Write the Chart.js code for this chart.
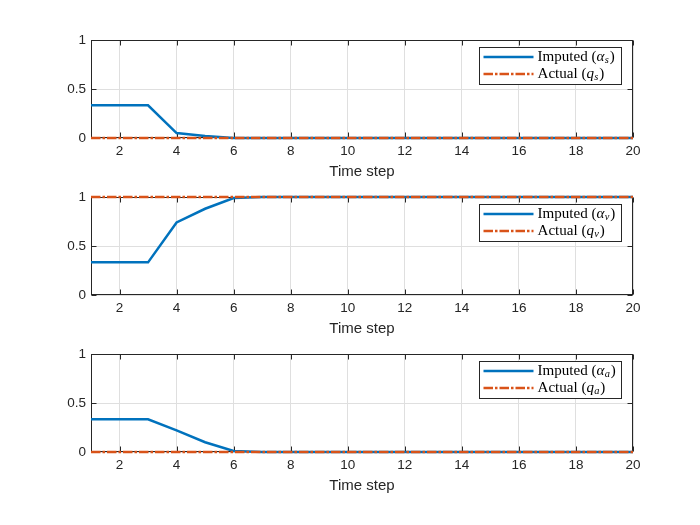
<!DOCTYPE html>
<html><head><meta charset="utf-8">
<script src="https://cdn.jsdelivr.net/npm/chart.js@4"></script>
<style>
html,body{margin:0;padding:0;background:#fff;width:700px;height:525px;overflow:hidden}
.pane{position:absolute;left:0;width:700px;height:185px}
</style></head><body>
<div class="pane" style="top:0px"><canvas id="c0" width="700" height="185"></canvas></div>
<div class="pane" style="top:157px"><canvas id="c1" width="700" height="185"></canvas></div>
<div class="pane" style="top:314px"><canvas id="c2" width="700" height="185"></canvas></div>
<script>
const STEPS = [1,2,3,4,5,6,7,8,9,10,11,12,13,14,15,16,17,18,19,20];
const X_TICKS = [2,4,6,8,10,12,14,16,18,20];
const Y_TICKS = [0,0.5,1];
const Y_TICK_LABELS = ['0','0.5','1'];
const X_TITLE = 'Time step';
const SUBSCRIPTS = ['s','v','a'];

const IMPUTED_S = [0.333,0.333,0.333,0.05,0.02,0,0,0,0,0,0,0,0,0,0,0,0,0,0,0];
const ACTUAL_S  = [0,0,0,0,0,0,0,0,0,0,0,0,0,0,0,0,0,0,0,0];
const IMPUTED_V = [0.333,0.333,0.333,0.74,0.88,0.99,1,1,1,1,1,1,1,1,1,1,1,1,1,1];
const ACTUAL_V  = [1,1,1,1,1,1,1,1,1,1,1,1,1,1,1,1,1,1,1,1];
const IMPUTED_A = [0.333,0.333,0.333,0.22,0.10,0.01,0,0,0,0,0,0,0,0,0,0,0,0,0,0];
const ACTUAL_A  = [0,0,0,0,0,0,0,0,0,0,0,0,0,0,0,0,0,0,0,0];

const SERIES = [[IMPUTED_S, ACTUAL_S],[IMPUTED_V, ACTUAL_V],[IMPUTED_A, ACTUAL_A]];

const BLUE = '#0072BD', ORANGE = '#D95319', AXIS = '#262626';
const DASHDOT = [9.5,2,2.5,2];
const LW = 2.5;

const boxPlugin = {
  id: 'mbox',
  beforeDatasetsDraw(chart) {
    const {ctx, chartArea: a, scales: {x, y}} = chart;
    ctx.save();
    ctx.strokeStyle = AXIS; ctx.lineWidth = 1;
    const L = Math.round(a.left)+0.5, R = Math.round(a.right)-0.5, T = Math.round(a.top)+0.5, B = Math.round(a.bottom)-0.5;
    ctx.strokeRect(L, T, R-L, B-T);
    const tl = 5;
    ctx.beginPath();
    X_TICKS.forEach(v => {
      const px = Math.round(x.getPixelForValue(v))+0.5;
      ctx.moveTo(px, B); ctx.lineTo(px, B-tl);
      ctx.moveTo(px, T); ctx.lineTo(px, T+tl);
    });
    Y_TICKS.forEach(v => {
      const py = Math.round(y.getPixelForValue(v))+0.5;
      ctx.moveTo(L, py); ctx.lineTo(L+tl, py);
      ctx.moveTo(R, py); ctx.lineTo(R-tl, py);
    });
    ctx.stroke();
    ctx.restore();
  }
};

function drawMathLabel(ctx, label, x, y) {
  const m = label.match(/^(.*\()(.)_(.)\)$/);
  const SX = 1.04;
  ctx.save();
  ctx.translate(x, y);
  ctx.scale(SX, 1);
  ctx.fillStyle = '#000';
  ctx.textBaseline = 'middle';
  ctx.textAlign = 'left';
  let cx = 0;
  ctx.font = '14.5px "Liberation Serif", serif';
  ctx.fillText(m[1], cx, 0); cx += ctx.measureText(m[1]).width;
  ctx.font = 'italic 14.5px "Liberation Serif", serif';
  ctx.fillText(m[2], cx, 0); cx += ctx.measureText(m[2]).width + 0.3;
  ctx.font = 'italic 10px "Liberation Serif", serif';
  ctx.fillText(m[3], cx, 3.5); cx += ctx.measureText(m[3]).width + 0.8;
  ctx.font = '14.5px "Liberation Serif", serif';
  ctx.fillText(')', cx, 0);
  ctx.restore();
}

const legendPlugin = {
  id: 'mlegend',
  afterDraw(chart) {
    const {ctx, chartArea: a} = chart;
    const w = 142, h = 37;
    const left = Math.round(a.right - 12 - w) + 0.5;
    const top = Math.round(a.top + 7) + 0.5;
    ctx.save();
    ctx.fillStyle = '#fff';
    ctx.fillRect(left, top, w, h);
    ctx.strokeStyle = AXIS; ctx.lineWidth = 1;
    ctx.strokeRect(left, top, w, h);
    const rows = [top + 9.5, top + 26.5];
    chart.data.datasets.forEach((ds, i) => {
      const ry = rows[i];
      ctx.beginPath();
      ctx.strokeStyle = ds.borderColor; ctx.lineWidth = LW;
      ctx.setLineDash(ds.borderDash || []);
      ctx.moveTo(left + 4, ry); ctx.lineTo(left + 54, ry);
      ctx.stroke();
      ctx.setLineDash([]);
      drawMathLabel(ctx, ds.label, left + 58, ry);
    });
    ctx.restore();
  }
};

function makeChart(idx) {
  const [imp, act] = SERIES[idx];
  const sub = SUBSCRIPTS[idx];
  return new Chart(document.getElementById('c' + idx), {
    type: 'line',
    data: {
      datasets: [
        { label: 'Imputed (α_' + sub + ')', data: STEPS.map((s, i) => ({x: s, y: imp[i]})), order: 1,
          borderColor: BLUE, borderWidth: LW, pointRadius: 0, tension: 0, fill: false, clip: false },
        { label: 'Actual (q_' + sub + ')', data: STEPS.map((s, i) => ({x: s, y: act[i]})), order: 0,
          borderColor: ORANGE, borderWidth: LW, borderDash: DASHDOT, pointRadius: 0, tension: 0, fill: false, clip: false }
      ]
    },
    options: {
      responsive: false, animation: false, devicePixelRatio: 1,
      layout: { padding: { top: 40, right: 67, left: 0, bottom: 0 } },
      plugins: { legend: { display: false }, tooltip: { enabled: false } },
      scales: {
        x: {
          type: 'linear', min: 1, max: 20,
          afterBuildTicks: s => { s.ticks = X_TICKS.map(v => ({value: v})); },
          afterFit: s => { s.height = 47; },
          border: { display: false },
          grid: { color: '#dfdfdf', lineWidth: 1, drawTicks: false },
          ticks: { color: AXIS, padding: 5, maxRotation: 0, autoSkip: false,
                   font: { family: '"Liberation Sans", Arial, sans-serif', size: 13.5 } },
          title: { display: true, text: X_TITLE, color: AXIS, padding: { top: 0, bottom: 4 },
                   font: { family: '"Liberation Sans", Arial, sans-serif', size: 15 } }
        },
        y: {
          min: 0, max: 1,
          afterBuildTicks: s => { s.ticks = Y_TICKS.map(v => ({value: v})); },
          afterFit: s => { s.width = 91; },
          border: { display: false },
          grid: { color: '#dfdfdf', lineWidth: 1, drawTicks: false },
          ticks: { color: AXIS, padding: 5,
                   callback: (v) => Y_TICK_LABELS[Y_TICKS.indexOf(v)],
                   font: { family: '"Liberation Sans", Arial, sans-serif', size: 13.5 } }
        }
      }
    },
    plugins: [boxPlugin, legendPlugin]
  });
}
[0,1,2].forEach(makeChart);
</script>
</body></html>
